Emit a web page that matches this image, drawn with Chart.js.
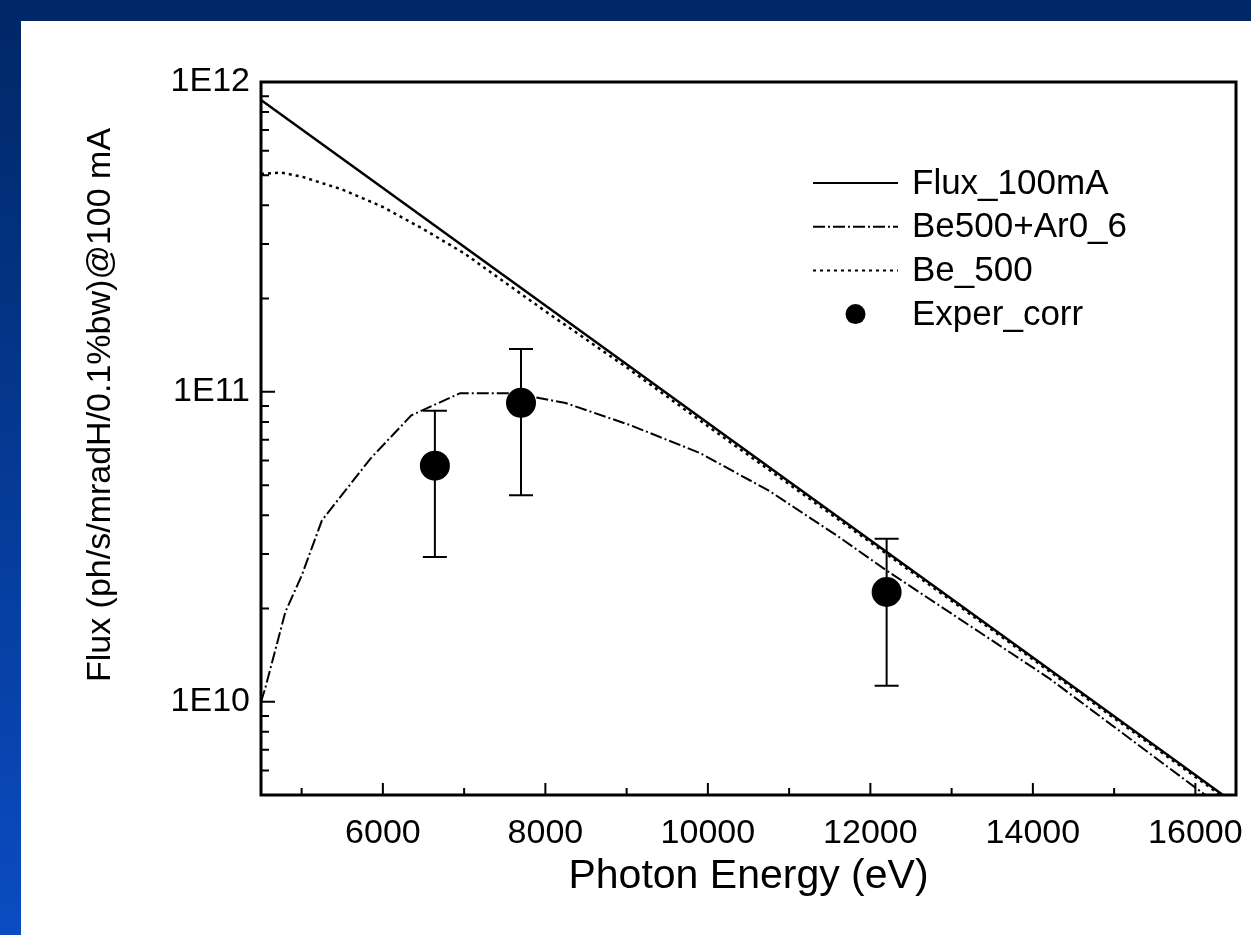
<!DOCTYPE html>
<html>
<head>
<meta charset="utf-8">
<title>Flux vs Photon Energy</title>
<script src="https://cdn.jsdelivr.net/npm/chart.js"></script>
<style>
  html, body { margin: 0; padding: 0; }
  body {
    width: 1251px;
    height: 935px;
    overflow: hidden;
    position: relative;
    background: linear-gradient(to bottom, #002766 0%, #0a4cc2 100%);
  }
  #panel {
    position: absolute;
    left: 21px;
    top: 21px;
    width: 1230px;
    height: 914px;
    background: #fff;
  }
  canvas { display: block; }
</style>
</head>
<body>
<div id="panel"><canvas id="fluxChart" width="1230" height="914"></canvas></div>
<script>
// flux curves (eV -> ph/s/mradH/0.1%bw @100 mA)
const fluxEnergy = [4500, 6000, 8000, 10000, 12000, 14000, 16000, 16500];
const fluxValue = [8.75e11, 4.55e11, 1.9e11, 7.94e10, 3.32e10, 1.39e10, 5.8e9, 4.66e9];

const arEnergy = [4500, 4550, 4800, 5000, 5250, 5850, 6350, 6950, 7600, 8250, 9050, 9900, 10750, 11600, 12200, 14200, 16100, 16500];
const arValue = [1.0e10, 1.1e10, 1.95e10, 2.55e10, 3.85e10, 6.1e10, 8.4e10, 9.9e10, 9.9e10, 9.2e10, 7.8e10, 6.35e10, 4.8e10, 3.42e10, 2.65e10, 1.19e10, 5.05e9, 4.27e9];

const beEnergy = [4500, 4750, 5000, 5500, 6000, 6500, 7000, 8000, 9000, 10000, 12000, 14000, 16000, 16500];
const beValue = [5.05e11, 5.1e11, 4.95e11, 4.5e11, 3.95e11, 3.35e11, 2.8e11, 1.82e11, 1.2e11, 7.75e10, 3.27e10, 1.37e10, 5.72e9, 4.6e9];

// measured points with error bars
const expEnergy = [6640, 7700, 12200];
const expValue = [5.78e10, 9.22e10, 2.26e10];
const expLow = [2.93e10, 4.64e10, 1.125e10];
const expHigh = [8.69e10, 1.375e11, 3.36e10];

const seriesLabels = ["Flux_100mA", "Be500+Ar0_6", "Be_500", "Exper_corr"];
const xTicks = [6000, 8000, 10000, 12000, 14000, 16000];
const yTicks = [1e10, 1e11, 1e12];
const yTitle = "Flux (ph/s/mradH/0.1%bw)@100 mA";

const FONT = "'Liberation Sans', Arial, Helvetica, sans-serif";

const toPoints = (xs, ys) => xs.map((x, i) => ({ x: x, y: ys[i] }));

// error bars under the markers
const errorBars = {
  id: "errorBars",
  beforeDatasetsDraw(chart) {
    const { ctx, scales } = chart;
    ctx.save();
    ctx.strokeStyle = "#000";
    ctx.lineWidth = 2;
    expEnergy.forEach((e, i) => {
      const x = scales.x.getPixelForValue(e);
      const yTop = scales.y.getPixelForValue(expHigh[i]);
      const yBot = scales.y.getPixelForValue(expLow[i]);
      ctx.beginPath();
      ctx.moveTo(x, yTop);
      ctx.lineTo(x, yBot);
      ctx.moveTo(x - 12, yTop);
      ctx.lineTo(x + 12, yTop);
      ctx.moveTo(x - 12, yBot);
      ctx.lineTo(x + 12, yBot);
      ctx.stroke();
    });
    ctx.restore();
  },
};

// box frame with inward ticks on the bottom and left axes
const frameTicks = {
  id: "frameTicks",
  afterDraw(chart) {
    const { ctx, chartArea: a, scales } = chart;
    ctx.save();
    ctx.strokeStyle = "#000";
    ctx.lineWidth = 2;
    ctx.beginPath();
    for (let v = 5000; v <= 16000; v += 1000) {
      const x = scales.x.getPixelForValue(v);
      const len = v % 2000 === 0 ? 12 : 7;
      ctx.moveTo(x, a.bottom);
      ctx.lineTo(x, a.bottom - len);
    }
    for (let p = 9; p <= 11; p++) {
      for (let m = 1; m <= 9; m++) {
        const v = m * Math.pow(10, p);
        if (v < scales.y.min || v > scales.y.max) continue;
        const y = scales.y.getPixelForValue(v);
        const len = m === 1 ? 14 : 8;
        ctx.moveTo(a.left, y);
        ctx.lineTo(a.left + len, y);
      }
    }
    ctx.stroke();
    ctx.lineWidth = 3;
    ctx.strokeRect(a.left, a.top, a.right - a.left, a.bottom - a.top);

    // rotated y title, sitting a little above the axis middle
    ctx.font = "34px " + FONT;
    ctx.fillStyle = "#000";
    ctx.textAlign = "center";
    ctx.textBaseline = "middle";
    ctx.translate(a.left - 160, a.top + 323);
    ctx.rotate(-Math.PI / 2);
    ctx.fillText(yTitle, 0, 0);
    ctx.restore();
  },
};

// legend drawn inside the plot, upper right
const insideLegend = {
  id: "insideLegend",
  afterDraw(chart) {
    const { ctx, chartArea: a } = chart;
    const x0 = a.left + 552;
    const x1 = x0 + 85;
    const tx = x0 + 99;
    let y = a.top + 101;
    ctx.save();
    ctx.font = "35px " + FONT;
    ctx.textBaseline = "middle";
    ctx.fillStyle = "#000";
    chart.data.datasets.forEach((ds) => {
      ctx.strokeStyle = "#000";
      if (ds.showLine === false) {
        ctx.beginPath();
        ctx.arc((x0 + x1) / 2, y, 10, 0, Math.PI * 2);
        ctx.fill();
      } else {
        ctx.lineWidth = 2;
        ctx.setLineDash(ds.borderDash || []);
        ctx.beginPath();
        ctx.moveTo(x0, y);
        ctx.lineTo(x1, y);
        ctx.stroke();
        ctx.setLineDash([]);
      }
      ctx.fillText(ds.label, tx, y + 1);
      y += 43.7;
    });
    ctx.restore();
  },
};

new Chart(document.getElementById("fluxChart"), {
  type: "line",
  data: {
    datasets: [
      {
        label: seriesLabels[0],
        data: toPoints(fluxEnergy, fluxValue),
        borderColor: "#000",
        borderWidth: 2.5,
        pointRadius: 0,
        tension: 0,
      },
      {
        label: seriesLabels[1],
        data: toPoints(arEnergy, arValue),
        borderColor: "#000",
        borderWidth: 2,
        borderDash: [12, 3, 2, 3],
        pointRadius: 0,
        tension: 0,
      },
      {
        label: seriesLabels[2],
        data: toPoints(beEnergy, beValue),
        borderColor: "#000",
        borderWidth: 2.5,
        borderDash: [3, 4],
        pointRadius: 0,
        tension: 0,
      },
      {
        label: seriesLabels[3],
        data: toPoints(expEnergy, expValue),
        showLine: false,
        pointRadius: 15,
        pointBackgroundColor: "#000",
        pointBorderWidth: 0,
        borderColor: "#000",
      },
    ],
  },
  options: {
    responsive: false,
    animation: false,
    layout: { padding: { left: 0, right: 13, top: 61, bottom: 0 } },
    plugins: {
      legend: { display: false },
      tooltip: { enabled: false },
    },
    scales: {
      x: {
        type: "linear",
        min: 4500,
        max: 16500,
        afterBuildTicks: (s) => {
          s.ticks = xTicks.map((v) => ({ value: v }));
        },
        afterFit: (s) => {
          s.height = 140;
          s.paddingLeft = 0;
          s.paddingRight = 0;
        },
        grid: { display: false, drawTicks: false },
        border: { display: false },
        ticks: {
          color: "#000",
          font: { family: FONT, size: 34 },
          padding: 18,
          maxRotation: 0,
          autoSkip: false,
          callback: (v) => String(v),
        },
        title: {
          display: true,
          text: "Photon Energy (eV)",
          color: "#000",
          font: { family: FONT, size: 41, lineHeight: 1 },
          padding: { top: 0, bottom: 38 },
        },
      },
      y: {
        type: "logarithmic",
        min: 5e9,
        max: 1e12,
        afterBuildTicks: (s) => {
          s.ticks = yTicks.map((v) => ({ value: v }));
        },
        afterFit: (s) => {
          s.width = 240;
        },
        grid: { display: false, drawTicks: false },
        border: { display: false },
        ticks: {
          color: "#000",
          font: { family: FONT, size: 34 },
          padding: 11,
          autoSkip: false,
          callback: (v) => "1E" + Math.round(Math.log10(v)),
        },
      },
    },
  },
  plugins: [errorBars, frameTicks, insideLegend],
});
</script>
</body>
</html>
